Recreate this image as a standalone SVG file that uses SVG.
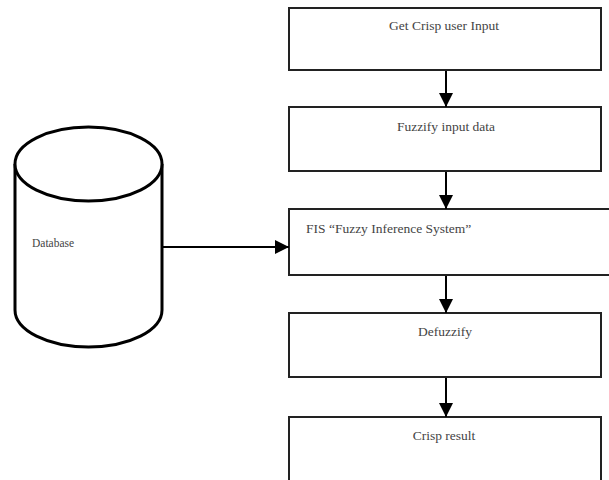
<svg xmlns="http://www.w3.org/2000/svg" width="609" height="480" viewBox="0 0 609 480">
  <defs>
    <marker id="arrow" viewBox="0 0 10 10" refX="10" refY="5" markerWidth="14" markerHeight="14" markerUnits="userSpaceOnUse" orient="auto">
      <path d="M0,0 L10,5 L0,10 Z" fill="#000"/>
    </marker>
    <style>
      .box { fill: #fff; stroke: #222; stroke-width: 2; }
      .db { fill: #fff; stroke: #000; stroke-width: 3; }
      .lbl { font-family: "Liberation Serif", "Times New Roman", serif; font-size: 13.5px; fill: #444; }
      .small { font-size: 11.5px; }
      .conn { stroke: #000; stroke-width: 2; fill: none; marker-end: url(#arrow); }
    </style>
  </defs>
  <rect width="609" height="480" fill="#fff"/>

  <g id="database">
    <path class="db" d="M15,164 L15,310 A73.5,37 0 0 0 162,310 L162,164"/>
    <ellipse class="db" cx="88.5" cy="164" rx="73.5" ry="37"/>
    <text class="lbl small" x="32" y="247">Database</text>
  </g>

  <g id="get-input">
    <rect class="box" x="289" y="8" width="312" height="62"/>
    <text class="lbl" x="444" y="30" text-anchor="middle">Get Crisp user Input</text>
  </g>

  <g id="fuzzify">
    <rect class="box" x="289" y="107" width="312" height="64"/>
    <text class="lbl" x="446" y="131" text-anchor="middle">Fuzzify input data</text>
  </g>

  <g id="fis">
    <rect class="box" x="289" y="209" width="330" height="66"/>
    <text class="lbl" x="306" y="233">FIS “Fuzzy Inference System”</text>
  </g>

  <g id="defuzzify">
    <rect class="box" x="289" y="313" width="312" height="64"/>
    <text class="lbl" x="445" y="336" text-anchor="middle">Defuzzify</text>
  </g>

  <g id="crisp-result">
    <rect class="box" x="289" y="417" width="312" height="70"/>
    <text class="lbl" x="444" y="440" text-anchor="middle">Crisp result</text>
  </g>

  <g id="connectors">
    <line class="conn" x1="446" y1="71" x2="446" y2="107"/>
    <line class="conn" x1="446" y1="172" x2="446" y2="209"/>
    <line class="conn" x1="446" y1="276" x2="446" y2="313"/>
    <line class="conn" x1="446" y1="378" x2="446" y2="417"/>
    <line class="conn" x1="162" y1="247" x2="289" y2="247"/>
  </g>
</svg>
